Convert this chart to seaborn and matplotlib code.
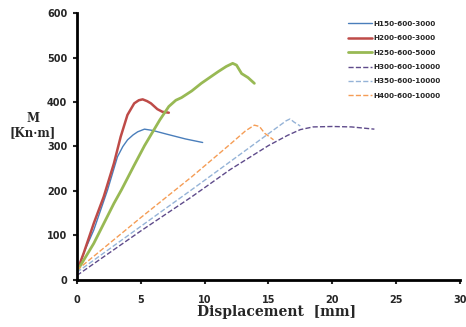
import numpy as np
import pandas as pd
import seaborn as sns
import matplotlib.pyplot as plt

# displacement [mm] / moment [kN-m]
h150_x = [0, 0.6, 1.32, 2.4, 3.18, 3.6, 3.97, 4.4, 4.76, 5.29, 5.95, 7.0, 8.5, 9.85]
h150_m = [19, 65, 112, 202, 277, 300, 315, 326, 333, 339, 336, 328, 317, 309]

h200_x = [0, 0.53, 1.32, 2.1, 2.9, 3.43, 3.96, 4.49, 4.85, 5.15, 5.5, 5.8, 6.3, 6.7, 7.2]
h200_m = [19, 60, 127, 187, 262, 322, 371, 397, 404, 406, 402, 397, 384, 378, 376]

h250_x = [0, 1.32, 2.9, 3.5, 4.49, 5.3, 6.5, 7.2, 7.75, 8.2, 9.0, 9.74, 11.05, 11.7, 12.2, 12.5, 12.9, 13.4, 13.9]
h250_m = [19, 82, 172, 203, 258, 302, 360, 390, 404, 410, 425, 442, 468, 480, 487, 483, 464, 455, 442]

h300_x = [0, 5.0, 9.0, 12.0, 15.0, 16.5, 17.5, 18.5, 20.0, 21.5, 23.3]
h300_m = [10, 110, 187, 248, 302, 325, 338, 344, 345, 344, 339]

h350_x = [0, 9.0, 16.4, 16.7, 17.0, 17.5]
h350_m = [17, 203, 358, 362, 355, 346]

h400_x = [0, 5.0, 9.0, 12.0, 13.2, 13.9, 14.3, 14.7, 15.4]
h400_m = [22, 140, 232, 305, 335, 348, 345, 330, 315]

names = ["H150-600-3000", "H200-600-3000", "H250-600-5000",
         "H300-600-10000", "H350-600-10000", "H400-600-10000"]
xs = [h150_x, h200_x, h250_x, h300_x, h350_x, h400_x]
ms = [h150_m, h200_m, h250_m, h300_m, h350_m, h400_m]

colors = ["#4a7ebb", "#be4b48", "#98b954", "#5f4b8b", "#95b3d7", "#f59d56"]
styles = ["-", "-", "-", "--", "--", "--"]
widths = [1.0, 1.8, 2.0, 1.0, 1.0, 1.0]

sns.set_style("white")
plt.rcParams['font.family'] = ['DejaVu Sans']

fig = plt.figure(figsize=(4.66, 3.27), dpi=100)
ax = fig.add_axes([0.165, 0.144, 0.822, 0.816])

for i in range(len(names)):
    df = pd.DataFrame({"d": xs[i], "m": ms[i]})
    sns.lineplot(data=df, x="d", y="m", sort=False, ax=ax, color=colors[i],
                 linestyle=styles[i], linewidth=widths[i], label=names[i])

ax.set_xlim(0, 30)
ax.set_ylim(0, 600)
ax.set_xticks([0, 5, 10, 15, 20, 25, 30])
ax.set_yticks([0, 100, 200, 300, 400, 500, 600])
for s in ["top", "right"]:
    ax.spines[s].set_visible(False)
for s in ["left", "bottom"]:
    ax.spines[s].set_linewidth(2)
    ax.spines[s].set_color("black")
ax.tick_params(axis="both", direction="out", length=3, width=1.5,
               labelsize=7, left=True, bottom=True)
ax.tick_params(axis="x", pad=8)
ax.tick_params(axis="y", pad=4)
for lab in ax.get_xticklabels() + ax.get_yticklabels():
    lab.set_fontweight("bold")

ax.set_xlabel("Displacement  [mm]", family="DejaVu Serif", fontweight="bold",
              fontsize=10)
ax.xaxis.set_label_coords(0.52, -0.095)
ax.set_ylabel("")
fig.text(0.07, 0.615, "M\n[Kn·m]", family="DejaVu Serif", fontweight="bold",
         fontsize=8.5, ha="center", va="center", linespacing=1.1)

leg = ax.legend(loc="upper left", bbox_to_anchor=(0.69, 0.995), frameon=False,
                fontsize=5.2, handlelength=3.3, handletextpad=0.3, labelspacing=1.15)
for t in leg.get_texts():
    t.set_fontweight("bold")

fig.savefig("out.png", dpi=100)
